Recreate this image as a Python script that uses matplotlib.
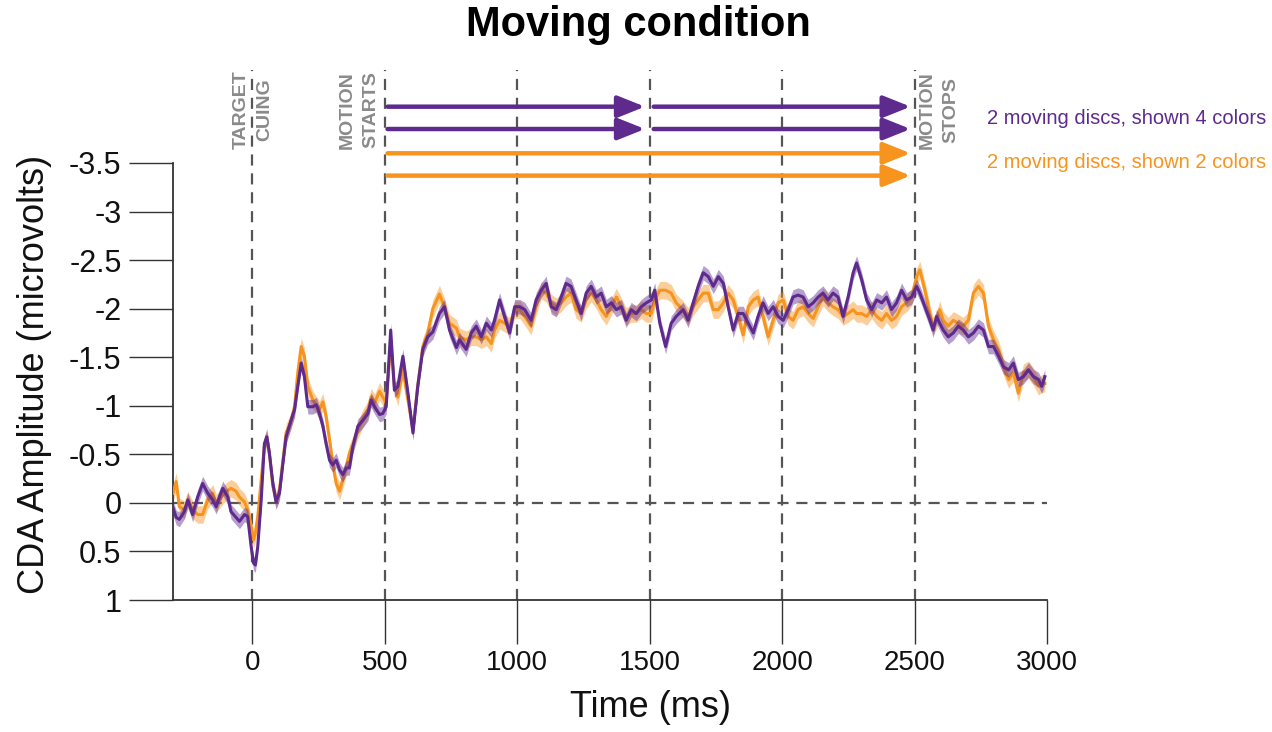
import matplotlib
matplotlib.use("Agg")
import matplotlib.pyplot as plt
import numpy as np

plt.rcParams['font.family'] = ['Liberation Sans', 'DejaVu Sans']

# ---------------- data ----------------
time_ms = [-300, -288, -276, -257, -244, -226, -207, -188, -169, -150, -137, -125, -112, -93, -81, -62, -49, -30, -18, -5,
           4, 11, 20, 33, 45, 54, 64, 77, 89, 102, 115, 127, 146, 159, 171, 184, 196, 209, 228, 241,
           253, 266, 278, 291, 303, 316, 329, 341, 354, 366, 379, 398, 417, 436, 448, 461, 480, 492, 505, 522,
           536, 549, 568, 587, 606, 624, 643, 662, 681, 706, 725, 744, 770, 782, 807, 826, 845, 864, 883, 902,
           914, 933, 952, 971, 990, 1009, 1028, 1052, 1071, 1090, 1109, 1128, 1147, 1166, 1184, 1203, 1222, 1241, 1260, 1279,
           1298, 1317, 1336, 1355, 1374, 1393, 1411, 1430, 1449, 1468, 1487, 1506, 1519, 1538, 1560, 1581, 1600, 1626, 1645, 1664,
           1683, 1702, 1721, 1740, 1759, 1778, 1796, 1815, 1834, 1853, 1872, 1891, 1909, 1928, 1947, 1966, 1985, 2004, 2023, 2041,
           2060, 2079, 2098, 2117, 2136, 2154, 2173, 2192, 2211, 2230, 2249, 2268, 2281, 2300, 2319, 2338, 2357, 2376, 2394, 2413,
           2432, 2451, 2470, 2489, 2508, 2520, 2539, 2558, 2570, 2583, 2595, 2608, 2627, 2646, 2665, 2684, 2703, 2722, 2741, 2760,
           2779, 2798, 2817, 2836, 2855, 2873, 2892, 2911, 2930, 2949, 2968, 2980, 2992]

two_colors = [-0.10, -0.22, 0.04, 0.07, -0.03, 0.07, 0.12, 0.12, -0.03, -0.10, 0.00, -0.03, -0.08, -0.13, -0.15, -0.12, -0.06, -0.01, 0.07, 0.24,
              0.38, 0.31, 0.14, -0.24, -0.58, -0.68, -0.51, -0.17, -0.03, -0.13, -0.44, -0.72, -0.85, -0.99, -1.34, -1.61, -1.51, -1.20, -1.06, -1.01,
              -0.96, -1.04, -0.89, -0.65, -0.41, -0.20, -0.12, -0.24, -0.37, -0.51, -0.60, -0.75, -0.87, -0.96, -1.09, -1.03, -1.15, -1.09, -1.03, -1.65,
              -1.20, -1.09, -1.37, -1.06, -0.75, -1.20, -1.61, -1.75, -2.00, -2.15, -2.02, -1.85, -1.80, -1.71, -1.68, -1.71, -1.71, -1.68, -1.71, -1.64,
              -1.78, -1.88, -1.85, -1.82, -1.99, -1.99, -1.92, -1.82, -2.02, -2.19, -2.16, -2.06, -2.02, -2.06, -2.12, -2.16, -1.99, -1.95, -2.09, -2.16,
              -2.09, -1.99, -1.92, -2.02, -2.12, -2.02, -1.92, -1.95, -1.95, -1.99, -1.95, -1.95, -2.09, -2.19, -2.19, -2.16, -2.06, -1.99, -1.92, -2.02,
              -2.09, -2.16, -2.16, -1.99, -1.99, -2.06, -2.16, -2.09, -1.92, -1.73, -2.02, -2.09, -2.12, -1.92, -1.71, -1.88, -2.06, -2.09, -1.92, -1.88,
              -1.99, -2.02, -1.95, -1.90, -2.02, -2.12, -2.06, -2.02, -1.99, -1.92, -1.95, -1.99, -1.95, -1.95, -1.92, -1.99, -1.92, -1.88, -1.95, -1.88,
              -1.92, -2.02, -2.06, -2.12, -2.33, -2.40, -2.19, -1.95, -1.82, -1.88, -1.99, -1.88, -1.82, -1.88, -1.85, -1.82, -1.88, -2.16, -2.23, -2.16,
              -1.82, -1.68, -1.58, -1.40, -1.27, -1.34, -1.13, -1.34, -1.37, -1.30, -1.20, -1.23, -1.23]

four_colors = [0.05, 0.15, 0.17, 0.09, -0.03, 0.12, -0.06, -0.20, -0.10, -0.03, 0.04, -0.06, -0.15, -0.06, 0.09, 0.15, 0.19, 0.12, 0.14, 0.45,
               0.62, 0.64, 0.45, -0.03, -0.61, -0.68, -0.51, -0.20, -0.01, -0.10, -0.41, -0.68, -0.85, -0.96, -1.20, -1.44, -1.30, -0.99, -0.99, -1.01,
               -0.92, -0.79, -0.61, -0.44, -0.39, -0.44, -0.34, -0.29, -0.36, -0.36, -0.58, -0.79, -0.85, -0.92, -1.06, -0.99, -0.91, -0.92, -0.99, -1.78,
               -1.16, -1.20, -1.51, -1.13, -0.72, -1.20, -1.58, -1.71, -1.76, -1.95, -2.02, -1.78, -1.60, -1.68, -1.58, -1.75, -1.82, -1.71, -1.85, -1.78,
               -1.88, -2.09, -1.92, -1.75, -2.02, -2.02, -1.99, -1.88, -2.09, -2.19, -2.26, -2.02, -1.99, -2.12, -2.26, -2.23, -2.09, -1.95, -2.16, -2.23,
               -2.12, -2.16, -2.02, -2.06, -1.99, -2.02, -1.88, -1.99, -1.95, -2.02, -2.06, -2.09, -2.19, -1.85, -1.61, -1.85, -1.92, -1.99, -1.88, -2.06,
               -2.23, -2.37, -2.33, -2.23, -2.33, -2.26, -2.02, -1.78, -1.95, -1.95, -1.85, -1.75, -1.92, -2.06, -1.95, -2.02, -1.92, -1.88, -1.99, -2.12,
               -2.14, -2.12, -2.02, -2.06, -2.12, -2.16, -2.09, -2.16, -2.12, -1.92, -2.12, -2.37, -2.47, -2.30, -2.09, -1.99, -2.09, -2.06, -2.12, -1.99,
               -2.06, -2.19, -2.09, -2.12, -2.23, -2.16, -2.02, -1.88, -1.78, -1.92, -1.85, -1.78, -1.71, -1.75, -1.82, -1.78, -1.71, -1.75, -1.82, -1.78,
               -1.61, -1.61, -1.51, -1.40, -1.37, -1.44, -1.27, -1.30, -1.37, -1.30, -1.27, -1.20, -1.30]

sem_two_colors = 0.09
sem_four_colors = 0.075

x_ticks = [0, 500, 1000, 1500, 2000, 2500, 3000]
x_tick_labels = ['0', '500', '1000', '1500', '2000', '2500', '3000']
y_ticks = [-3.5, -3, -2.5, -2, -1.5, -1, -0.5, 0, 0.5, 1]
y_tick_labels = ['-3.5', '-3', '-2.5', '-2', '-1.5', '-1', '-0.5', '0', '0.5', '1']

event_times = [0, 500, 1000, 1500, 2000, 2500]
label_four = '2 moving discs, shown 4 colors'
label_two = '2 moving discs, shown 2 colors'

# ---------------- style ----------------
PURPLE = '#5e2a8e'
ORANGE = '#f7941d'
GRAY_TXT = '#8a8a8a'
DASH = '#555555'

W, H = 1272, 732
fig = plt.figure(figsize=(W / 100, H / 100), dpi=100)
ax = fig.add_axes([173 / W, 1 - 600 / H, (1047 - 173) / W, (600 - 163) / H])

t = np.array(time_ms)
o = np.array(two_colors)
p = np.array(four_colors)

ax.fill_between(t, o - sem_two_colors, o + sem_two_colors, color=ORANGE, alpha=0.45, lw=0, zorder=2)
ax.plot(t, o, color=ORANGE, lw=2.2, zorder=3)
ax.fill_between(t, p - sem_four_colors, p + sem_four_colors, color=PURPLE, alpha=0.45, lw=0, zorder=4)
ax.plot(t, p, color=PURPLE, lw=2.2, zorder=5)

ax.set_xlim(-300, 3000)
ax.set_ylim(1, -3.5)

# zero line
ax.axhline(0, color=DASH, lw=1.6, ls=(0, (5, 3.5)), zorder=1)
# event lines extending above the axes
ax.vlines(event_times, 1, -4.46, colors=DASH, lw=1.6, linestyles=[(0, (5, 3.5))], clip_on=False, zorder=1)

# spines and ticks
for s in ['top', 'right']:
    ax.spines[s].set_visible(False)
for s in ['left', 'bottom']:
    ax.spines[s].set_color('#333333')
    ax.spines[s].set_linewidth(1.3)

ax.set_xticks(x_ticks)
ax.set_xticklabels(x_tick_labels)
ax.set_yticks(y_ticks)
ax.set_yticklabels(y_tick_labels)
ax.tick_params(axis='both', direction='out', length=32, width=1.0, color='#333333', labelcolor='#111111')
ax.tick_params(axis='y', pad=5, labelsize=22)
ax.tick_params(axis='x', pad=4, labelsize=20)

ax.set_ylabel('CDA Amplitude (microvolts)', fontsize=26, color='#111111')
ax.yaxis.set_label_coords((52 - 173) / 874, 0.517)
ax.set_xlabel('Time (ms)', fontsize=26, color='#111111')
ax.xaxis.set_label_coords((650 - 173) / 874, (600 - 690) / 437)

# arrows
def arrow(x0, x1, y, color):
    ax.annotate('', xy=(x1, y), xytext=(x0, y), xycoords='data', annotation_clip=False,
                arrowprops=dict(arrowstyle='-|>,head_length=1.5,head_width=0.6', color=color, lw=3.2,
                                shrinkA=0, shrinkB=0, mutation_scale=11), zorder=6)

arrow(510, 1482, -4.08, PURPLE)
arrow(1515, 2485, -4.08, PURPLE)
arrow(510, 1482, -3.85, PURPLE)
arrow(1515, 2485, -3.85, PURPLE)
arrow(510, 2485, -3.60, ORANGE)
arrow(510, 2485, -3.37, ORANGE)

# event annotations (one text per line)
ev_kw = dict(rotation=90, ha='center', va='center', fontsize=14, fontweight='bold', color=GRAY_TXT)
for x_px, txt in [(241, 'TARGET'), (265, 'CUING'), (347, 'MOTION'), (371, 'STARTS'),
                  (927, 'MOTION'), (951, 'STOPS')]:
    fig.text(x_px / W, 1 - 110 / H, txt, **ev_kw)

# legend texts
fig.text(987 / W, 1 - 118 / H, label_four, ha='left', va='center', fontsize=14.5, color='#5e2a8e')
fig.text(987 / W, 1 - 163 / H, label_two, ha='left', va='center', fontsize=14.5, color=ORANGE)

fig.text(638 / W, 1 - 25 / H, 'Moving condition', ha='center', va='center', fontsize=30, fontweight='bold')

fig.savefig('out.png', dpi=100)
